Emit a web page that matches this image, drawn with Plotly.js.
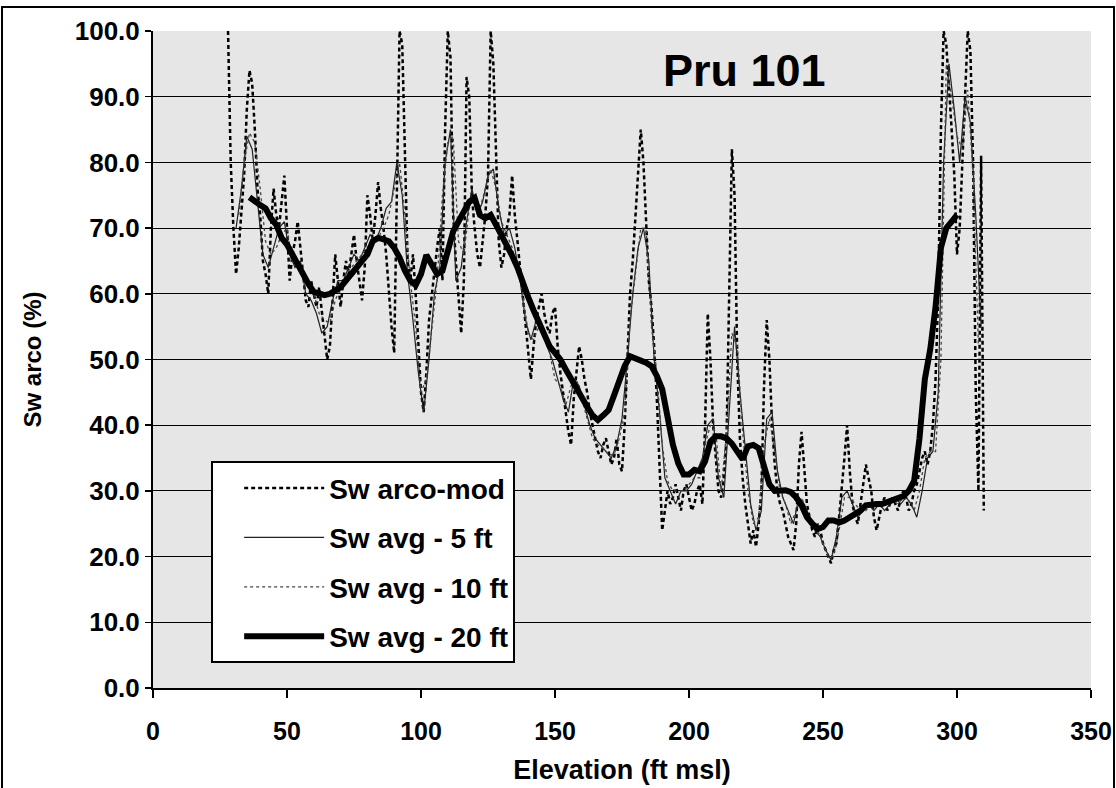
<!DOCTYPE html>
<html>
<head>
<meta charset="utf-8">
<script src="https://cdn.plot.ly/plotly-3.0.1.min.js"></script>
<style>
  html, body { margin: 0; padding: 0; background: #ffffff; }
  #chart { width: 1116px; height: 788px; }
</style>
</head>
<body>
<div id="chart"></div>
<script>
// ---- Data ----
// Raw Sw arco-mod, elevation step 1 ft from 28 to 310
const rawElev = [];
for (let e = 28; e <= 310; e++) rawElev.push(e);
const swArcoMod = [
  100, 80, 70, 63, 67, 72, 78, 88, 94, 92, 85, 76, 72, 65, 63, 60, 70, 76, 72, 70,   // 28-47
  74, 78, 70, 62, 66, 68, 71, 67, 62, 59, 58, 62, 60, 58, 61, 57, 53, 50, 52, 60,      // 48-67
  66, 62, 58, 62, 65, 63, 66, 69, 65, 62, 59, 64, 75, 72, 68, 72, 77, 73, 70, 66,      // 68-87
  60, 55, 51, 75, 100, 98, 80, 65, 62, 66, 60, 52, 45, 42, 48, 56, 60, 63, 67, 70,     // 88-107
  62, 85, 100, 96, 72, 65, 60, 54, 62, 93, 90, 75, 70, 66, 64, 68, 72, 78, 100, 95,    // 108-127
  80, 68, 64, 66, 70, 72, 78, 72, 68, 64, 59, 56, 52, 47, 52, 56, 58, 60, 57, 55,      // 128-147
  54, 57, 58, 52, 48, 45, 42, 39, 37, 44, 48, 52, 50, 47, 45, 42, 40, 38, 36, 35,      // 148-167
  37, 38, 36, 34, 35, 38, 34, 33, 40, 50, 60, 65, 72, 78, 85, 80, 70, 62, 58, 52,      // 168-187
  44, 33, 24, 27, 30, 28, 29, 31, 29, 27, 30, 31, 29, 27, 28, 30, 31, 28, 40, 57,      // 188-207
  50, 40, 35, 30, 29, 32, 38, 60, 82, 75, 50, 38, 32, 28, 25, 22, 24, 21.5, 25, 30,    // 208-227
  46, 56, 50, 40, 34, 30, 28, 27, 25, 23, 22, 21, 25, 34, 39, 33, 28, 26, 24, 23,      // 228-247
  25, 24, 22, 21, 20, 19, 21, 22, 26, 30, 35, 40, 33, 28, 26, 25, 28, 31, 34, 32,      // 248-267
  30, 26, 24, 26, 28, 29, 27, 28, 29, 28, 27, 29, 30, 29, 27, 28, 30, 31, 33, 35,      // 268-287
  36, 34, 36, 40, 47, 60, 85, 100, 98, 92, 85, 78, 66, 70, 80, 92, 100, 97, 80, 45,    // 288-307
  30, 81, 27                                                                           // 308-310
];

// Sw avg - 5 ft (odd elevations 31..309)
const avg5Elev = [];
for (let e = 31; e <= 309; e += 2) avg5Elev.push(e);
const swAvg5 = [
  70, 76, 84, 82, 74, 66, 64, 67, 70, 71,     // 31-49
  66, 64, 65, 60, 59, 57, 54, 55, 59, 62,     // 51-69
  62, 64, 66, 65, 67, 69, 68, 70, 73, 74,     // 71-89
  80, 75, 63, 56, 48, 42, 50, 60, 64, 80,     // 91-109
  85, 62, 64, 71, 76, 72, 74, 78, 79, 73,     // 111-129
  69, 70, 67, 62, 56, 53, 56, 55, 52, 50,     // 131-149
  47, 44, 42, 47, 46, 43, 40, 38, 37, 36,     // 151-169
  35, 37, 41, 50, 60, 67, 70, 65, 50, 42,     // 171-189
  32, 30, 28, 30, 30, 31, 33, 35, 40, 41,     // 191-209
  32, 29, 42, 55, 45, 36, 28, 24, 27, 41,     // 211-229
  42, 33, 29, 27, 25, 29, 28, 26, 24, 23,     // 231-249
  21, 19.5, 23, 29, 30, 28, 26, 27, 28, 27,   // 251-269
  28, 27, 28, 29, 28, 29, 28, 26, 30, 35,     // 271-289
  36, 45, 80, 95, 88, 80, 90, 86, 72, 55      // 291-309
];

// Sw avg - 10 ft (even elevations 32..308)
const avg10Elev = [];
for (let e = 32; e <= 308; e += 2) avg10Elev.push(e);
const swAvg10 = [
  72, 80, 84.5, 83, 76, 68, 66, 67, 69, 70,   // 32-50
  65, 64, 63, 61, 60, 57, 56, 55.5, 59, 61,   // 52-70
  63, 64, 65, 66, 67, 68, 68.5, 70, 72, 76,   // 72-90
  80, 72, 62, 55, 45, 47, 55, 62, 75, 83,     // 92-110
  84, 68, 66, 73, 75, 73, 76, 79, 76, 71,     // 112-130
  69, 67, 64, 60, 54, 53, 55, 54, 51, 47,     // 132-150
  46, 43, 46, 47, 44, 41, 38, 37, 36.5, 35.5, // 152-170
  35.5, 38, 42, 56, 63, 70, 70, 55, 48, 37,   // 172-190
  31.5, 30, 30, 30, 31, 32, 32, 37, 40, 39,   // 192-210
  30, 39, 54, 52, 39, 30, 25, 26, 37, 41,     // 212-230
  36, 30, 28, 25, 27, 29, 27, 25, 24, 22,     // 232-250
  20, 20, 24, 29, 29, 28, 27, 27, 28, 28,     // 252-270
  27.5, 28, 28.5, 28, 29, 28.5, 27, 30, 35, 36, // 272-290
  36, 50, 95, 90, 84, 82, 91, 78, 52          // 292-308
];

// Sw avg - 20 ft (even elevations 36..300)
const avg20Elev = [];
for (let e = 36; e <= 300; e += 2) avg20Elev.push(e);
const swAvg20 = [
  74.7, 74.0, 73.5, 73.0, 71.5, 70.5, 68.5, 67.5, 66.0, 64.5,   // 36-54
  62.8, 61.5, 60.3, 60.0, 59.8, 60.0, 60.5, 61.0, 62.0, 63.2,   // 56-74
  64.0, 65.0, 66.0, 68.0, 68.5, 68.3, 68.0, 67.0, 65.5, 63.5,   // 76-94
  62.0, 61.3, 63.0, 65.9, 64.5, 63.0, 63.5, 66.5, 69.5, 71.0,   // 96-114
  72.5, 74.0, 74.6, 72.0, 71.5, 72.0, 70.5, 69.0, 67.5, 65.8,   // 116-134
  64.0, 61.5, 59.5, 57.5, 55.5, 53.5, 52.0, 51.0, 50.0, 48.5,   // 136-154
  47.0, 45.5, 44.0, 42.8, 41.5, 40.8, 41.5, 42.3, 44.5, 47.0,   // 156-174
  49.0, 50.5, 50.2, 49.8, 49.5, 49.0, 47.5, 45.5, 41.0, 37.0,   // 176-194
  34.2, 32.5, 32.5, 33.2, 33.0, 34.5, 37.5, 38.3, 38.3, 38.0,   // 196-214
  37.2, 36.0, 34.8, 36.8, 37.0, 36.5, 33.5, 31.0, 30.0, 30.0,   // 216-234
  30.1, 29.8, 29.0, 27.8, 26.0, 25.0, 24.2, 24.5, 25.5, 25.5,   // 236-254
  25.2, 25.5, 26.0, 26.5, 27.0, 27.8, 28.0, 28.0, 28.0, 28.3,   // 256-274
  28.8, 29.0, 29.2, 30.0, 31.5, 38.0, 47.0, 51.5, 58.0, 67.0,   // 276-294
  70.0, 71.0, 72.0                                               // 296-300
];

const seriesNames = ['Sw arco-mod', 'Sw avg - 5 ft', 'Sw avg - 10 ft', 'Sw avg - 20 ft'];
const yTickVals = [0, 10, 20, 30, 40, 50, 60, 70, 80, 90, 100];
const xTickVals = [0, 50, 100, 150, 200, 250, 300, 350];

// ---- Plot ----
const FONT = 'Arial, "Liberation Sans", Helvetica, sans-serif';

const traces = [
  { x: rawElev, y: swArcoMod, name: seriesNames[0], mode: 'lines',
    line: { color: '#000000', width: 2.5, dash: '4px,3px' }, legendgroup: 'a' },
  { x: avg5Elev, y: swAvg5, name: seriesNames[1], mode: 'lines',
    line: { color: '#222222', width: 1.2 }, legendgroup: 'b' },
  { x: avg10Elev, y: swAvg10, name: seriesNames[2], mode: 'lines',
    line: { color: '#444444', width: 1.3, dash: 'dot' }, legendgroup: 'c' },
  { x: avg20Elev, y: swAvg20, name: seriesNames[3], mode: 'lines',
    line: { color: '#000000', width: 6 }, legendgroup: 'd' }
];

const layout = {
  width: 1116, height: 788,
  margin: { l: 153, r: 25, t: 31, b: 100 },
  paper_bgcolor: '#ffffff',
  plot_bgcolor: '#e6e6e6',
  font: { family: FONT, color: '#000000' },
  showlegend: true,
  legend: {
    x: 0.062, y: 0.345, xanchor: 'left', yanchor: 'top',
    bgcolor: '#ffffff', bordercolor: '#000000', borderwidth: 2,
    font: { family: FONT, size: 28, color: '#000000', weight: 'bold' },
    tracegroupgap: 10, itemwidth: 80, indentation: 26,
    traceorder: 'grouped'
  },
  xaxis: {
    range: [0, 350], tickvals: xTickVals, ticktext: xTickVals.map(String),
    showgrid: false, zeroline: false,
    showline: true, linecolor: '#000000', linewidth: 2,
    ticks: 'outside', ticklen: 8, tickwidth: 1.5, tickcolor: '#000000',
    ticklabelstandoff: 12,
    tickfont: { family: FONT, size: 25, weight: 'bold' },
    title: { text: 'Elevation (ft msl)', font: { family: FONT, size: 27, weight: 'bold' }, standoff: 16 }
  },
  yaxis: {
    range: [0, 100], tickvals: yTickVals, ticktext: yTickVals.map(v => v.toFixed(1)),
    showgrid: true, gridcolor: '#000000', gridwidth: 1,
    zeroline: false,
    showline: true, linecolor: '#000000', linewidth: 2,
    ticks: 'outside', ticklen: 6, tickwidth: 1.5, tickcolor: '#000000',
    tickfont: { family: FONT, size: 26, weight: 'bold' },
    title: { text: 'Sw arco (%)', font: { family: FONT, size: 24, weight: 'bold' }, standoff: 26 }
  },
  annotations: [
    { text: 'Pru 101', xref: 'paper', yref: 'paper', x: 0.631, y: 0.94,
      xanchor: 'center', yanchor: 'middle', showarrow: false,
      font: { family: FONT, size: 45, weight: 'bold', color: '#000000' } }
  ],
  shapes: [
    { type: 'rect', xref: 'paper', yref: 'paper', layer: 'below',
      x0: (2 - 153) / 938, x1: (1114 - 153) / 938,
      y0: (688 - 800) / 657, y1: (688 - 7) / 657,
      line: { color: '#000000', width: 2 }, fillcolor: 'rgba(0,0,0,0)' }
  ]
};

Plotly.newPlot('chart', traces, layout, { displayModeBar: false, staticPlot: true });
</script>
</body>
</html>
